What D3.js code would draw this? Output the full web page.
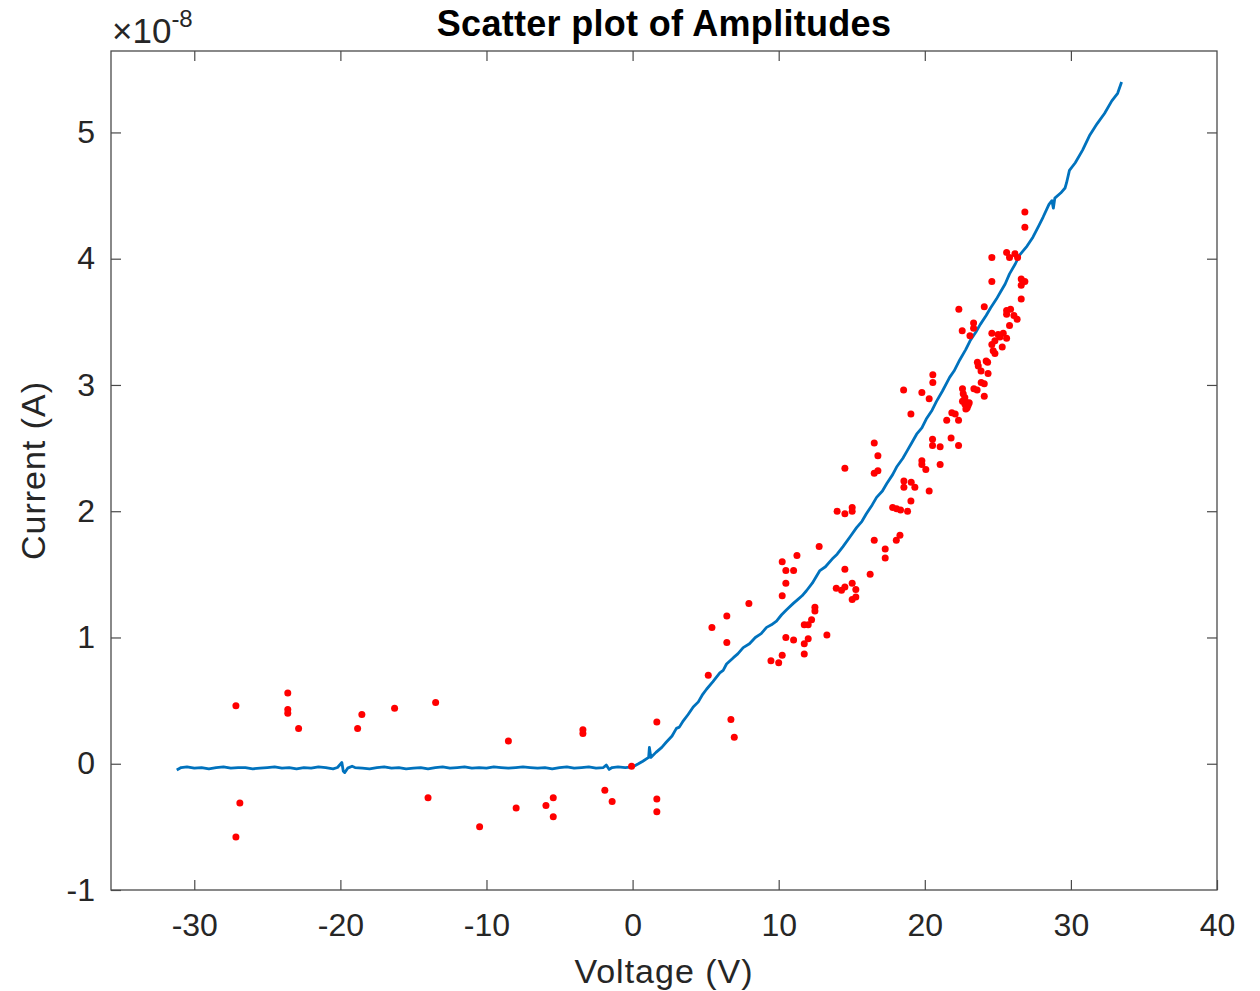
<!DOCTYPE html>
<html>
<head>
<meta charset="utf-8">
<script src="https://cdn.jsdelivr.net/npm/d3@7"></script>
<style>
    body { margin: 0; background: #fff; }
    svg text { font-family: "Liberation Sans", Arial, Helvetica, sans-serif; fill: #262626; }
</style>
</head>
<body>
<div id="chart"></div>
<script>
/* scatter of amplitudes on top of the measured I-V curve */

// -----------------------------
// DATA (current in units of 1e-8 A)
// -----------------------------
const sweepVoltage = [
    -31.2, -30.9, -30.5, -30, -29.5, -29, -28.5, -28, -27.5, -27,
    -26.5, -26, -25.5, -25, -24.5, -24, -23.5, -23, -22.5, -22,
    -21.5, -21, -20.5, -20.2, -19.9, -19.8, -19.7, -19.5, -19.2, -19,
    -18.5, -18, -17.5, -17, -16.5, -16, -15.5, -15, -14.5, -14,
    -13.5, -13, -12.5, -12, -11.5, -11, -10.5, -10, -9.5, -9,
    -8.5, -8, -7.5, -7, -6.5, -6, -5.5, -5, -4.5, -4,
    -3.5, -3, -2.5, -2, -1.8, -1.6, -1.4, -1, -0.5, 0,
    0.4, 0.7, 1.1, 1.15, 1.25, 1.6, 2.0, 2.3, 2.7, 3.0,
    3.2, 3.47, 3.8, 4.15, 4.5, 4.8, 5.06, 5.5, 5.97, 6.2,
    6.43, 6.9, 7.2, 7.57, 8.0, 8.4, 8.8, 9.17, 9.5, 9.85,
    10.2, 10.54, 11.0, 11.3, 11.6, 11.9, 12.3, 12.82, 13.2, 13.73,
    14.0, 14.4, 14.9, 15.33, 15.7, 16.0, 16.4, 16.7, 17.1, 17.4,
    17.8, 18.07, 18.5, 18.8, 19.1, 19.44, 19.8, 20.1, 20.5, 20.8,
    21.2, 21.7, 22.0, 22.4, 22.8, 23.1, 23.5, 23.8, 24.2, 24.5,
    24.9, 25.2, 25.5, 25.8, 26.2, 26.5, 27.0, 27.4, 27.8, 28.1,
    28.5, 28.7, 28.8, 28.9, 29.3, 29.6, 29.7, 29.9, 30.3, 30.8,
    31.3, 31.8, 32.3, 32.8, 33.2, 33.47
];
const sweepCurrent = [
    -0.05, -0.03, -0.025, -0.035, -0.03, -0.04, -0.03, -0.025, -0.035, -0.03,
    -0.03, -0.04, -0.035, -0.03, -0.025, -0.035, -0.03, -0.04, -0.03, -0.035,
    -0.025, -0.03, -0.04, -0.03, 0.01, -0.06, -0.07, -0.035, -0.02, -0.03,
    -0.035, -0.04, -0.03, -0.025, -0.035, -0.03, -0.04, -0.035, -0.03, -0.04,
    -0.03, -0.025, -0.035, -0.03, -0.025, -0.035, -0.03, -0.035, -0.025, -0.03,
    -0.035, -0.03, -0.025, -0.03, -0.035, -0.03, -0.04, -0.03, -0.025, -0.035,
    -0.03, -0.025, -0.035, -0.03, -0.01, -0.045, -0.03, -0.025, -0.03, -0.025,
    0.0, 0.02, 0.05, 0.13, 0.05, 0.09, 0.13, 0.17, 0.22, 0.28,
    0.29, 0.34, 0.39, 0.45, 0.49, 0.55, 0.59, 0.65, 0.72, 0.74,
    0.79, 0.84, 0.87, 0.92, 0.95, 1.00, 1.03, 1.08, 1.10, 1.13,
    1.18, 1.22, 1.27, 1.30, 1.33, 1.37, 1.43, 1.53, 1.56, 1.63,
    1.66, 1.72, 1.80, 1.87, 1.92, 1.98, 2.05, 2.11, 2.16, 2.22,
    2.29, 2.35, 2.42, 2.48, 2.54, 2.61, 2.66, 2.73, 2.80, 2.87,
    2.95, 3.06, 3.11, 3.20, 3.28, 3.35, 3.42, 3.48, 3.55, 3.61,
    3.68, 3.74, 3.80, 3.88, 3.96, 4.03, 4.10, 4.17, 4.26, 4.33,
    4.43, 4.46, 4.40, 4.48, 4.52, 4.56, 4.60, 4.70, 4.76, 4.86,
    4.98, 5.07, 5.15, 5.25, 5.31, 5.40
];

const ampVoltage = [
    -27.15, -23.6, -23.6, -23.6, -22.86, -18.82, -18.53, -16.29, -13.48, -8.5, -26.88, -27.15, -14.0, -10.47,
    -7.97, -5.93, -5.43, -5.43, -3.4, -3.4, -1.9, -1.4, -0.07, 1.66, 1.66, 1.66, 5.18, 6.73, 6.96,
    9.47, 10.0, 5.43, 6.45, 6.45, 7.96, 10.24, 10.49, 11.02, 10.49, 10.24, 11.25, 12.77, 10.49, 11.02,
    10.24, 11.75, 12.02, 12.25, 12.48, 12.48, 12.02, 11.75, 11.75, 13.3, 14.53, 13.94, 14.3, 14.53,
    15.03, 15.28, 15.03, 15.28, 16.26, 16.54, 17.29, 17.29, 18.05, 18.3,
    14.53, 14.0, 14.53, 15.03, 15.03, 16.54, 16.79, 16.54, 16.79, 17.8, 18.07, 18.34, 18.82, 19.05,
    18.57, 19.07, 18.57, 19.32, 20.3, 19.8, 19.8, 20.07, 21.05, 19.05, 20.53, 20.53, 21.05, 21.8,
    22.31, 21.5, 21.85, 22.08, 22.31, 22.74, 22.9,
    26.85, 26.85, 25.6, 26.17, 26.35, 25.8, 24.59, 24.59, 26.6, 26.85, 26.6, 26.6, 22.33, 24.07,
    25.6, 25.87, 25.6, 26.1, 26.32, 25.8, 23.34, 23.34, 22.56, 23.09, 24.59, 25.02, 25.37, 25.14,
    25.6, 24.8, 25.3, 24.59, 24.68, 24.8, 23.6, 24.2, 24.3, 23.66, 23.85, 24.33, 23.86, 24.07,
    24.07, 23.36, 23.58, 22.58, 22.63, 22.74, 22.58, 22.9, 23.04, 22.81, 22.97, 20.55, 20.55,
    19.8, 20.3, 18.55
];
const ampCurrent = [
    0.46, 0.56, 0.43, 0.40, 0.28, 0.28, 0.39, 0.44, 0.485, 0.18, -0.31, -0.58, -0.27, -0.50,
    -0.35, -0.33, -0.27, -0.42, 0.27, 0.24, -0.21, -0.30, -0.02, 0.33, -0.28, -0.38, 0.70, 0.35, 0.21,
    0.815, 0.80, 1.08, 1.17, 0.96, 1.27, 1.60, 1.53, 1.53, 1.43, 1.33, 1.65, 1.72, 1.00, 0.98,
    0.86, 1.10, 1.10, 1.14, 1.24, 1.21, 0.99, 0.95, 0.87, 1.02, 1.54, 1.39, 1.375, 1.40,
    1.43, 1.38, 1.30, 1.32, 1.50, 1.77, 1.70, 1.63, 1.77, 1.81,
    2.34, 2.0, 1.98, 2.03, 2.0, 2.54, 2.44, 2.30, 2.32, 2.03, 2.02, 2.01, 2.0, 2.08,
    2.24, 2.23, 2.19, 2.19, 2.16, 2.40, 2.37, 2.33, 2.37, 2.77, 2.57, 2.52, 2.51, 2.58,
    2.52, 2.72, 2.78, 2.77, 2.72, 2.85, 2.82,
    4.37, 4.25, 4.05, 4.04, 4.01, 4.01, 4.01, 3.82, 3.84, 3.82, 3.79, 3.68, 3.60, 3.62,
    3.59, 3.60, 3.56, 3.55, 3.52, 3.47, 3.49, 3.45, 3.43, 3.39, 3.41, 3.40, 3.41, 3.38,
    3.37, 3.35, 3.30, 3.32, 3.27, 3.25, 3.18, 3.19, 3.18, 3.15, 3.11, 3.09, 3.02, 3.01,
    2.91, 2.97, 2.96, 2.97, 2.93, 2.90, 2.87, 2.86, 2.86, 2.81, 2.84, 3.08, 3.02,
    2.94, 2.89, 2.96
];

const xTicks = [-30, -20, -10, 0, 10, 20, 30, 40];
const yTicks = [-1, 0, 1, 2, 3, 4, 5];

// -----------------------------
// SIZES
// -----------------------------
const width = 1260, height = 991;
const margin = { top: 51, right: 43, bottom: 101, left: 111 };
const plotWidth = width - margin.left - margin.right;
const plotHeight = height - margin.top - margin.bottom;

const svg = d3.select("#chart").append("svg")
    .attr("width", width)
    .attr("height", height);

const g = svg.append("g")
    .attr("transform", `translate(${margin.left},${margin.top})`);

const x = d3.scaleLinear().domain([-35.7, 40]).range([0, plotWidth]);
const y = d3.scaleLinear().domain([-1, 5.645]).range([plotHeight, 0]);

// -----------------------------
// AXES (ticks pointing inward, box on)
// -----------------------------
const axisColor = "#4a4a4a";

//plain hyphen for negatives, like the original figure
const plainNum = d => String(d);

function styleAxis(sel) {
    sel.select(".domain").remove();
    sel.selectAll(".tick line").attr("stroke", axisColor).attr("stroke-width", 1.2);
    sel.selectAll(".tick text")
        .attr("font-size", 32)
        .style("fill", "#262626");
}

g.append("g")
    .attr("transform", `translate(0,${plotHeight})`)
    .call(d3.axisBottom(x).tickValues(xTicks).tickSize(-10).tickPadding(23).tickFormat(plainNum))
    .call(styleAxis);

g.append("g")
    .call(d3.axisTop(x).tickValues(xTicks.filter(d => d < 40)).tickSize(-10).tickFormat(""))
    .call(styleAxis);

g.append("g")
    .call(d3.axisLeft(y).tickValues(yTicks).tickSize(-10).tickPadding(16).tickFormat(plainNum))
    .call(styleAxis);

g.append("g")
    .attr("transform", `translate(${plotWidth},0)`)
    .call(d3.axisRight(y).tickValues(yTicks.filter(d => d > -1)).tickSize(-10).tickFormat(""))
    .call(styleAxis);

g.append("rect")
    .attr("width", plotWidth)
    .attr("height", plotHeight)
    .attr("fill", "none")
    .attr("stroke", axisColor)
    .attr("stroke-width", 1.3);

// -----------------------------
// SWEEP LINE + SCATTER
// -----------------------------
const sweep = sweepVoltage.map((v, i) => ({ v: v, c: sweepCurrent[i] }));
const amps = ampVoltage.map((v, i) => ({ v: v, c: ampCurrent[i] }));

const line = d3.line()
    .x(d => x(d.v))
    .y(d => y(d.c));

g.append("path")
    .datum(sweep)
    .attr("fill", "none")
    .attr("stroke", "#0072BD")
    .attr("stroke-width", 2.8)
    .attr("stroke-linejoin", "round")
    .attr("d", line);

g.selectAll(".amp")
    .data(amps)
    .enter()
    .append("circle")
    .attr("class", "amp")
    .attr("cx", d => x(d.v))
    .attr("cy", d => y(d.c))
    .attr("r", 3.5)
    .attr("fill", "#ff0000");

// -----------------------------
// LABELS
// -----------------------------
svg.append("text")
    .attr("x", margin.left + plotWidth / 2)
    .attr("y", 36)
    .attr("text-anchor", "middle")
    .attr("font-size", 36)
    .attr("font-weight", "bold")
    .attr("letter-spacing", 0.3)
    .style("fill", "#000")
    .text("Scatter plot of Amplitudes");

const expo = svg.append("text")
    .attr("x", 112)
    .attr("y", 43)
    .attr("font-size", 35);
expo.append("tspan").text("\u00d710");
expo.append("tspan").attr("dy", -16).attr("font-size", 24).text("-8");

svg.append("text")
    .attr("x", margin.left + plotWidth / 2)
    .attr("y", 983)
    .attr("text-anchor", "middle")
    .attr("font-size", 34)
    .attr("letter-spacing", 1)
    .text("Voltage (V)");

svg.append("text")
    .attr("transform", `translate(45,${margin.top + plotHeight / 2}) rotate(-90)`)
    .attr("text-anchor", "middle")
    .attr("font-size", 34)
    .attr("letter-spacing", 1)
    .text("Current (A)");
</script>
</body>
</html>
